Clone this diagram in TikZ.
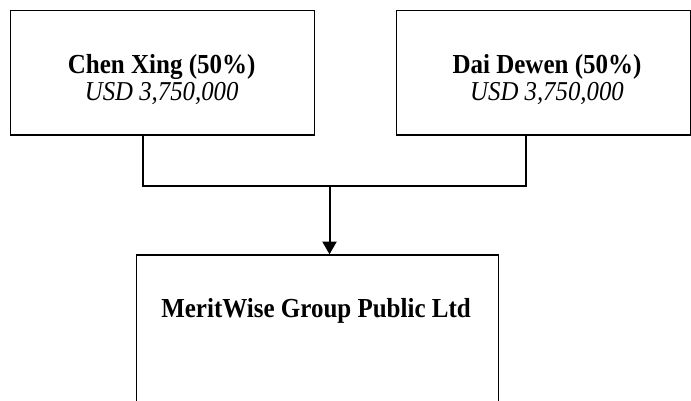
\documentclass[tikz,border=0pt]{standalone}
\usepackage{fontspec}
\setmainfont{Liberation Serif}
\usetikzlibrary{arrows.meta}
\newcommand\vstr[1]{\scalebox{1}[1.1]{#1}}
\tikzset{
  box/.style={draw=black, line width=1pt, fill=white, inner sep=0pt, anchor=north west},
  conn/.style={draw=black, line width=1.5pt},
  namet/.style={anchor=base, inner sep=0pt, font=\fontsize{18.75}{20}\selectfont\bfseries},
  amtt/.style={anchor=base, inner sep=0pt, font=\fontsize{18.6}{20}\selectfont\itshape},
}
\begin{document}
\begin{tikzpicture}[x=0.75pt, y=-0.75pt]
\useasboundingbox (0,0) rectangle (691,400);
\clip (0,0) rectangle (691,400);
\fill[white] (0,0) rectangle (691,400);
% boxes
\node[box, minimum width=228pt, minimum height=93.2pt] (b1) at (9.5,10) {};
\node[box, minimum width=220.5pt, minimum height=93.2pt] (b2) at (396,10) {};
\node[box, minimum width=271.5pt, minimum height=127.5pt] (b3) at (136,254.3) {};
% texts
\node[namet] (t1a) at (161.7,73) {\vstr{Chen Xing (50\%)}};
\node[amtt] (t1b) at (161.7,100) {\vstr{USD 3,750,000}};
\node[namet] (t2a) at (547,73) {\vstr{Dai Dewen (50\%)}};
\node[amtt] (t2b) at (547,100) {\vstr{USD 3,750,000}};
\node[namet] (t3) at (316,317.3) {\vstr{MeritWise Group Public Ltd}};
% connectors
\coordinate (j1) at (143.3,185.7);
\coordinate (j2) at (526,185.7);
\coordinate (jm) at (329.5,185.7);
\draw[conn, line join=miter] (b1.south -| j1) -- (j1) -- (j2) -- (b2.south -| j2);
\draw[conn, -{Triangle[width=10.5pt,length=9.5pt]}] (jm) -- (b3.north -| jm);
\end{tikzpicture}
\end{document}
